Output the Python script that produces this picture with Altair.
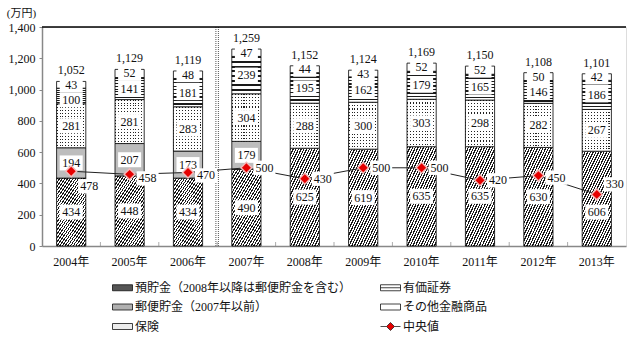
import altair as alt
import pandas as pd

# ---------------- data ----------------
years = ["2004年", "2005年", "2006年", "2007年", "2008年", "2009年", "2010年", "2011年", "2012年", "2013年"]
deposits = [434, 448, 434, 490, 625, 619, 635, 635, 630, 606]
postal = [194, 207, 173, 179, None, None, None, None, None, None]
insurance = [281, 281, 283, 304, 288, 300, 303, 298, 282, 267]
securities = [100, 141, 181, 239, 195, 162, 179, 165, 146, 186]
other = [43, 52, 48, 47, 44, 43, 52, 52, 50, 42]
totals = [1052, 1129, 1119, 1259, 1152, 1124, 1169, 1150, 1108, 1101]
median = [478, 458, 470, 500, 430, 500, 500, 420, 450, 330]
median_label_at = [382, 432, 451, 500, 430, 500, 500, 420, 437, 394]

S_DEP = "預貯金（2008年以降は郵便貯金を含む）"
S_POST = "郵便貯金（2007年以前）"
S_INS = "保険"
S_SEC = "有価証券"
S_OTH = "その他金融商品"
S_MED = "中央値"
series_order = [S_DEP, S_POST, S_INS, S_SEC, S_OTH]
series_vals = [deposits, postal, insurance, securities, other]
label_override = {(S_DEP, "2013年"): 217, (S_SEC, "2004年"): 935}

FONT = "'Liberation Serif', 'Noto Sans CJK JP', serif"

rows = []
for i, yr in enumerate(years):
    base = 0
    for name, vals in zip(series_order, series_vals):
        v = vals[i]
        if v is None:
            continue
        mid = label_override.get((name, yr), base + v / 2)
        rows.append(dict(year=yr, series=name, value=v, y0=base, y1=base + v, mid=mid))
        base += v
seg = pd.DataFrame(rows)
tot = pd.DataFrame(dict(year=years, total=totals))
med = pd.DataFrame(dict(year=years, median=median, lab=median_label_at))
sep = pd.DataFrame(dict(year=["2007年"]))
tickdf = pd.DataFrame(dict(year=years[1:]))
topdf = pd.DataFrame(dict(v=[1400]))

# ---------------- patterns ----------------
def stripes(n, frac, dark, light, **coords):
    stops = []
    for i in range(n):
        a = i / n
        b = (i + frac) / n
        c = (i + 1) / n
        stops += [alt.GradientStop(color=dark, offset=a), alt.GradientStop(color=dark, offset=b),
                  alt.GradientStop(color=light, offset=b), alt.GradientStop(color=light, offset=c)]
    return alt.LinearGradient(gradient="linear", stops=stops, **coords)

DEP_FILL = stripes(28, 0.45, "#1a1a1a", "#ffffff", x1=0, y1=0, x2=0.74, y2=1.17)
POST_FILL = "#bdbdbd"
INS_BASE = stripes(10, 0.35, "#222222", "#ffffff", x1=0, y1=0, x2=1, y2=0)
INS_TOP = stripes(15, 0.35, "rgba(255,255,255,0)", "#ffffff", x1=0, y1=0, x2=0, y2=1)
SEC_FILL = stripes(8, 0.4, "#1a1a1a", "#ffffff", x1=0, y1=0, x2=0, y2=1)
OTH_FILL = "#ffffff"

# ---------------- scales / axes ----------------
xs = alt.Scale(domain=years, paddingInner=0.5, paddingOuter=0.25)
xa = alt.Axis(title=None, ticks=False, labelAngle=0, labelPadding=10, domainColor="#888888",
              domainWidth=1.5, labelFontSize=12, labelFont=FONT, labelColor="#111111")
ys = alt.Scale(domain=[0, 1400], nice=False, zero=True)
ya = alt.Axis(title="(万円)", values=list(range(0, 1401, 200)),
              labelExpr="datum.value >= 1000 ? '1,' + pad(toString(datum.value - 1000), 3, '0', 'left') : toString(datum.value)",
              grid=False, tickSize=3,
              tickColor="#888888", domainColor="#888888", domainWidth=1.5, labelPadding=4,
              labelFontSize=12, labelFont=FONT, labelColor="#111111",
              titleAngle=0, titleX=-21, titleY=-14, titleAlign="center", titleBaseline="middle",
              titleFontWeight="normal", titleFont=FONT, titleFontSize=11, titleColor="#111111")


def X():
    return alt.X("year:N", scale=xs, axis=xa)


def Y(f):
    return alt.Y(f, scale=ys, axis=ya)


def bar(name, fill, stroke=True):
    kw = dict(fill=fill)
    if stroke:
        kw.update(stroke="black", strokeWidth=0.8)
    else:
        kw.update(strokeWidth=0)
    return alt.Chart(seg).transform_filter(alt.datum.series == name).mark_bar(**kw).encode(
        x=X(), y=Y("y1:Q"), y2=alt.Y2("y0:Q"))


BOX = "M-1,-0.652H1V0.652H-1Z"
layers = [
    bar(S_DEP, DEP_FILL),
    bar(S_POST, POST_FILL),
    bar(S_INS, INS_BASE, stroke=False),
    bar(S_INS, INS_TOP),
    bar(S_SEC, SEC_FILL),
    bar(S_OTH, OTH_FILL),
]

# separator (double dotted line between 2006 and 2007)
for off in (-30.5, -28.0):
    layers.append(alt.Chart(sep).mark_rule(color="#555555", strokeWidth=1, strokeDash=[1, 1],
                                           xOffset=off).encode(x=X()))
# top frame line
layers.append(alt.Chart(topdf).mark_rule(color="black", strokeWidth=1.5).encode(y=Y("v:Q")))
# small ticks between categories
layers.append(alt.Chart(tickdf).mark_tick(orient="vertical", size=4, thickness=1, color="#888888",
                                          xOffset=-29.2, yOffset=-2).encode(x=X(), y=alt.value(219)))

# segment labels
layers.append(alt.Chart(seg).mark_point(shape=BOX, size=529, filled=True, color="white", opacity=1,
                                        strokeWidth=0).encode(x=X(), y=Y("mid:Q")))
layers.append(alt.Chart(seg).mark_text(font=FONT, fontSize=12, baseline="middle", color="#111111").encode(
    x=X(), y=Y("mid:Q"), text=alt.Text("value:Q")))
# totals
layers.append(alt.Chart(tot).mark_text(font=FONT, fontSize=12, baseline="middle", dy=-11,
                                       color="#111111").encode(
    x=X(), y=Y("total:Q"), text=alt.Text("total:Q", format=",")))
# median line
layers.append(alt.Chart(med).mark_line(color="#222222", strokeWidth=1).encode(x=X(), y=Y("median:Q")))
# median labels
layers.append(alt.Chart(med).mark_point(shape=BOX, size=484, filled=True, color="white", opacity=1,
                                        strokeWidth=0, xOffset=18).encode(x=X(), y=Y("lab:Q")))
layers.append(alt.Chart(med).mark_text(font=FONT, fontSize=12, baseline="middle", dx=18,
                                       color="#111111").encode(
    x=X(), y=Y("lab:Q"), text=alt.Text("median:Q")))
# markers
layers.append(alt.Chart(med).mark_point(shape="diamond", filled=True, color="#f3b9b9", opacity=1,
                                        size=170).encode(x=X(), y=Y("median:Q")))
layers.append(alt.Chart(med).mark_point(shape="diamond", filled=True, color="#e60000", opacity=1,
                                        size=80).encode(x=X(), y=Y("median:Q")))

# legend (column-major, 2 columns)
legend_order = [S_DEP, S_POST, S_INS, S_SEC, S_OTH, S_MED]
legend_fill = ["#555555", "#b0b0b0", "#ececec", "#ffffff", "#ffffff", "#e60000"]
legend_stroke = ["#111111", "#111111", "#111111", "#111111", "#111111", "#222222"]
RECT = "M-1,-0.3H1V0.3H-1Z"
SEC_SYM = "M-1,-0.3H1V0.3H-1Z M-1,0H1"
MED_SYM = "M-1,0H-0.4M0.4,0H1M0,-0.4L0.4,0L0,0.4L-0.4,0Z"
legend_shape = [RECT, RECT, RECT, SEC_SYM, RECT, MED_SYM]
leg = pd.DataFrame(dict(series=legend_order))
legend = alt.Legend(title=None, orient="none", legendX=70, legendY=250, columns=2, columnPadding=26,
                    rowPadding=2.5, symbolSize=400, symbolStrokeWidth=0.8, symbolStrokeColor="black",
                    symbolOpacity=1, labelFontSize=12, labelFont=FONT, labelLimit=400, labelOffset=2,
                    labelColor="#111111")
layers.append(alt.Chart(leg).mark_point(filled=True, opacity=0, strokeWidth=0.8).encode(
    x=alt.value(0), y=alt.value(0),
    fill=alt.Fill("series:N", scale=alt.Scale(domain=legend_order, range=legend_fill), legend=legend),
    stroke=alt.Stroke("series:N", scale=alt.Scale(domain=legend_order, range=legend_stroke), legend=legend),
    shape=alt.Shape("series:N", scale=alt.Scale(domain=legend_order, range=legend_shape), legend=legend),
))

chart = alt.layer(*layers).properties(
    width=584, height=219,
    padding={"left": 42, "top": 27, "right": 14, "bottom": 91},
    autosize=alt.AutoSizeParams(type="none"),
).configure_view(stroke="#888888", strokeWidth=1.5).configure(background="white")

chart.save("out.html", embed_options={"renderer": "svg", "actions": False})
